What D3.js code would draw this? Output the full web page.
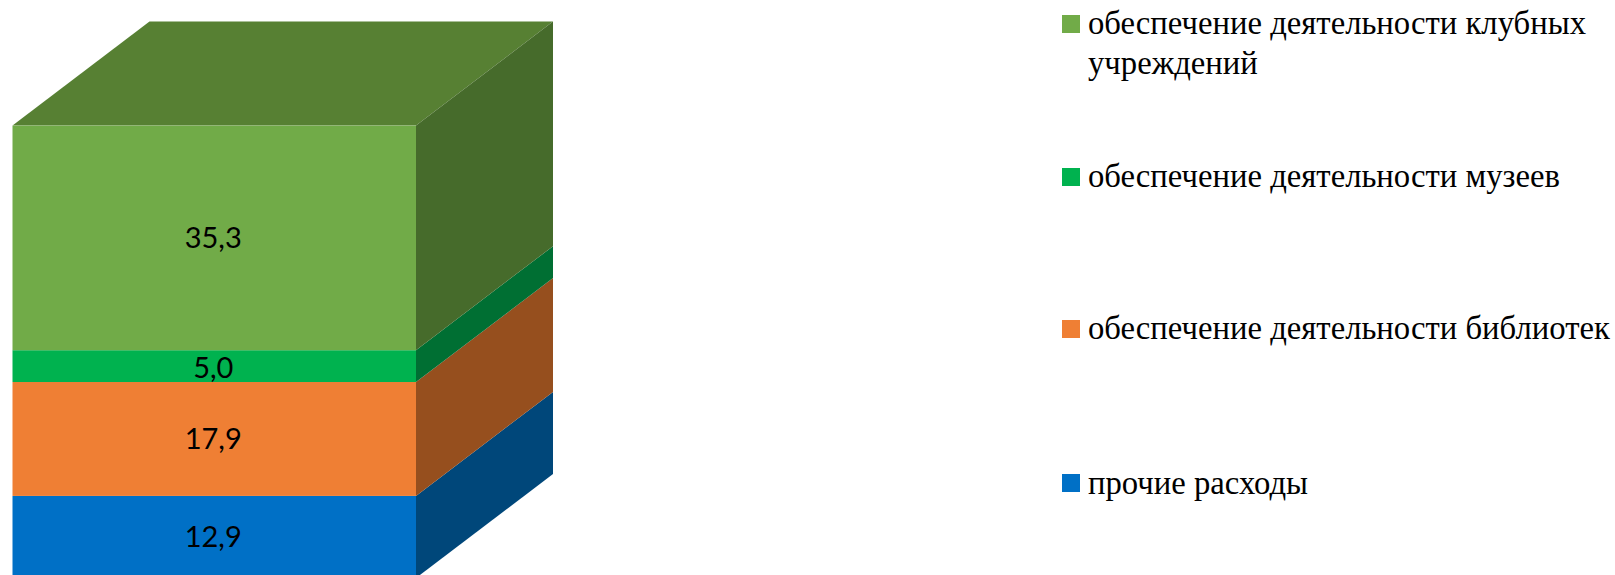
<!DOCTYPE html>
<html><head><meta charset="utf-8">
<script src="https://cdn.jsdelivr.net/npm/d3@7"></script>
<style>html,body{margin:0;padding:0;background:#fff;overflow:hidden}svg{display:block}</style>
</head><body><svg id="c" width="1615" height="575"></svg>
<script>
const categories = ["прочие расходы","обеспечение деятельности библиотек","обеспечение деятельности музеев","обеспечение деятельности клубных учреждений"];
const values = [12.9,17.9,5.0,35.3];
const valueLabels = ["12,9","17,9","5,0","35,3"];
const frontColors = ["#0070C6","#EF7F34","#00B24F","#71AB48"];
const sideColors = ["#00477A","#964F1E","#006F33","#466B2B"];
const topColor = "#578033";
const legendLines = [["прочие расходы"],["обеспечение деятельности библиотек"],["обеспечение деятельности музеев"],["обеспечение деятельности клубных","учреждений"]];

const svg = d3.select("#c");
const x0=12.5,x1=416,dx=137,dy=104;
const total=d3.sum(values);
const y=d3.scaleLinear().domain([0,total]).range([578,125.6]);
let acc=0;
const stack=values.map((v,i)=>{const s={i,v,a:acc,b:acc+v};acc+=v;return s;});
const pts=p=>p.map(q=>q.join(",")).join(" ");
const g=svg.append("g");
g.append("polygon").attr("points",pts([[x0,y(total)],[x1,y(total)],[x1+dx,y(total)-dy],[x0+dx,y(total)-dy]])).attr("fill",topColor);
g.selectAll("polygon.side").data(stack).join("polygon").attr("class","side")
 .attr("points",d=>pts([[x1,y(d.a)],[x1+dx,y(d.a)-dy],[x1+dx,y(d.b)-dy],[x1,y(d.b)]]))
 .attr("fill",d=>sideColors[d.i]);
g.selectAll("rect.front").data(stack).join("rect").attr("class","front")
 .attr("x",x0).attr("width",x1-x0).attr("y",d=>y(d.b)).attr("height",d=>y(d.a)-y(d.b))
 .attr("fill",d=>frontColors[d.i]);
const labelDy=[1,1,3,1];
g.selectAll("text.val").data(stack).join("text").attr("class","val")
 .attr("x",(x0+x1)/2-1).attr("y",d=>(y(d.a)+y(d.b))/2+labelDy[d.i]+9)
 .attr("text-anchor","middle").attr("font-family","Lato, Carlito, sans-serif").attr("font-size",29).attr("fill","#000")
 .text(d=>valueLabels[d.i]);

const swatchY=[474,320,168,15];
const textY=[494,339,187,34];
const leg=svg.append("g");
categories.forEach((c,i)=>{
  const gg=leg.append("g");
  gg.append("rect").attr("x",1062).attr("y",swatchY[i]).attr("width",18).attr("height",18).attr("fill",frontColors[i]);
  legendLines[i].forEach((t,j)=>gg.append("text").attr("x",1088).attr("y",textY[i]+j*40)
    .attr("font-family","'Liberation Serif',serif").attr("font-size",32.7).attr("fill","#000").text(t));
});
</script></body></html>
